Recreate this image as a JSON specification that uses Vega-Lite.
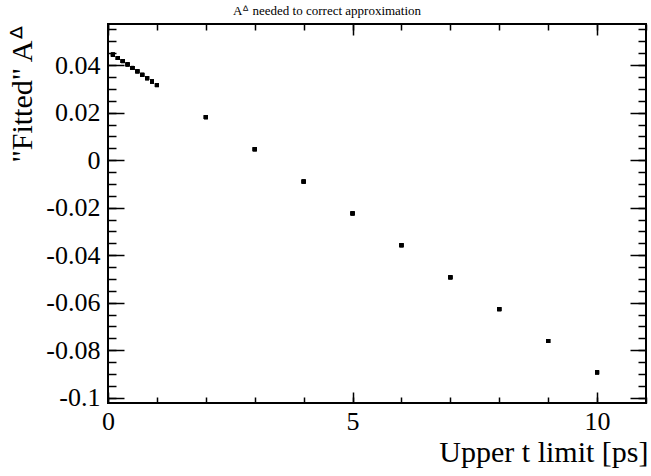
{
  "$schema": "https://vega.github.io/schema/vega-lite/v6.json",
  "width": 538,
  "height": 379,
  "autosize": {"type": "none"},
  "padding": {"left": 108, "top": 24, "right": 5, "bottom": 73},
  "background": "white",
  "title": {"text": "Aᐞ needed to correct approximation", "font": "Liberation Serif", "fontSize": 13, "fontWeight": "normal", "color": "black", "anchor": "middle", "offset": 5, "dx": -50},
  "data": {"values": [
    {"t": 0.1, "a": 0.0444},
    {"t": 0.2, "a": 0.0430},
    {"t": 0.3, "a": 0.0417},
    {"t": 0.4, "a": 0.0403},
    {"t": 0.5, "a": 0.0388},
    {"t": 0.6, "a": 0.0374},
    {"t": 0.7, "a": 0.0359},
    {"t": 0.8, "a": 0.0345},
    {"t": 0.9, "a": 0.0331},
    {"t": 1.0, "a": 0.0316},
    {"t": 2, "a": 0.0181},
    {"t": 3, "a": 0.0046},
    {"t": 4, "a": -0.0090},
    {"t": 5, "a": -0.0224},
    {"t": 6, "a": -0.0358},
    {"t": 7, "a": -0.0493},
    {"t": 8, "a": -0.0627},
    {"t": 9, "a": -0.0761},
    {"t": 10, "a": -0.0893}
  ]},
  "resolve": {"axis": {"x": "independent", "y": "independent"}},
  "layer": [
    {
      "mark": {"type": "point", "shape": "square", "filled": true, "size": 16, "color": "black", "opacity": 1},
      "encoding": {
        "x": {"field": "t", "type": "quantitative", "scale": {"domain": [0, 11], "nice": false, "zero": false},
          "axis": {"orient": "bottom", "values": [0, 5, 10], "ticks": false, "labelFont": "Liberation Serif", "labelFontSize": 26, "labelPadding": 5, "title": "Upper t limit [ps]", "titleAnchor": "end", "titlePadding": 3, "titleX": 540}},
        "y": {"field": "a", "type": "quantitative", "scale": {"domain": [-0.1022, 0.0573], "nice": false, "zero": false},
          "axis": {"orient": "left", "values": [-0.1, -0.08, -0.06, -0.04, -0.02, 0, 0.02, 0.04], "ticks": false, "labelFont": "Liberation Serif", "labelFontSize": 26, "labelPadding": 8, "labelExpr": "toString(datum.value)", "title": "\"Fitted\" Aᐞ", "titleAnchor": "end", "titlePadding": 8}}
      }
    },
    {
      "mark": {"type": "point", "shape": "square", "filled": true, "size": 16, "color": "black", "opacity": 1},
      "encoding": {
        "x": {"field": "t", "type": "quantitative",
          "axis": {"orient": "bottom", "values": [0, 5, 10], "labels": false, "tickSize": -11, "title": null}},
        "y": {"field": "a", "type": "quantitative",
          "axis": {"orient": "left", "values": [-0.1, -0.08, -0.06, -0.04, -0.02, 0, 0.02, 0.04], "labels": false, "tickSize": -16, "title": null}}
      }
    },
    {
      "mark": {"type": "point", "shape": "square", "filled": true, "size": 16, "color": "black", "opacity": 1},
      "encoding": {
        "x": {"field": "t", "type": "quantitative",
          "axis": {"orient": "bottom", "values": [0, 1, 2, 3, 4, 5, 6, 7, 8, 9, 10, 11], "labels": false, "tickSize": -6, "title": null}},
        "y": {"field": "a", "type": "quantitative",
          "axis": {"orient": "left", "values": [-0.1, -0.095, -0.09, -0.085, -0.08, -0.075, -0.07, -0.065, -0.06, -0.055, -0.05, -0.045, -0.04, -0.035, -0.03, -0.025, -0.02, -0.015, -0.01, -0.005, 0, 0.005, 0.01, 0.015, 0.02, 0.025, 0.03, 0.035, 0.04, 0.045, 0.05, 0.055], "labels": false, "tickSize": -8, "title": null}}
      }
    },
    {
      "mark": {"type": "point", "shape": "square", "filled": true, "size": 16, "color": "black", "opacity": 1},
      "encoding": {
        "x": {"field": "t", "type": "quantitative",
          "axis": {"orient": "top", "values": [0, 5, 10], "labels": false, "tickSize": -11, "title": null}},
        "y": {"field": "a", "type": "quantitative",
          "axis": {"orient": "right", "values": [-0.1, -0.08, -0.06, -0.04, -0.02, 0, 0.02, 0.04], "labels": false, "tickSize": -16, "title": null}}
      }
    },
    {
      "mark": {"type": "point", "shape": "square", "filled": true, "size": 16, "color": "black", "opacity": 1},
      "encoding": {
        "x": {"field": "t", "type": "quantitative",
          "axis": {"orient": "top", "values": [0, 1, 2, 3, 4, 5, 6, 7, 8, 9, 10, 11], "labels": false, "tickSize": -6, "title": null}},
        "y": {"field": "a", "type": "quantitative",
          "axis": {"orient": "right", "values": [-0.1, -0.095, -0.09, -0.085, -0.08, -0.075, -0.07, -0.065, -0.06, -0.055, -0.05, -0.045, -0.04, -0.035, -0.03, -0.025, -0.02, -0.015, -0.01, -0.005, 0, 0.005, 0.01, 0.015, 0.02, 0.025, 0.03, 0.035, 0.04, 0.045, 0.05, 0.055], "labels": false, "tickSize": -8, "title": null}}
      }
    }
  ],
  "config": {
    "view": {"stroke": "black", "strokeWidth": 2},
    "axis": {
      "domain": false, "grid": false,
      "labelFont": "Liberation Serif", "labelFontSize": 26, "labelColor": "black",
      "labelFlush": false, "labelOverlap": false,
      "titleFont": "Liberation Serif", "titleFontSize": 30, "titleFontWeight": "normal", "titleColor": "black",
      "tickColor": "black", "tickWidth": 1.5
    }
  }
}
